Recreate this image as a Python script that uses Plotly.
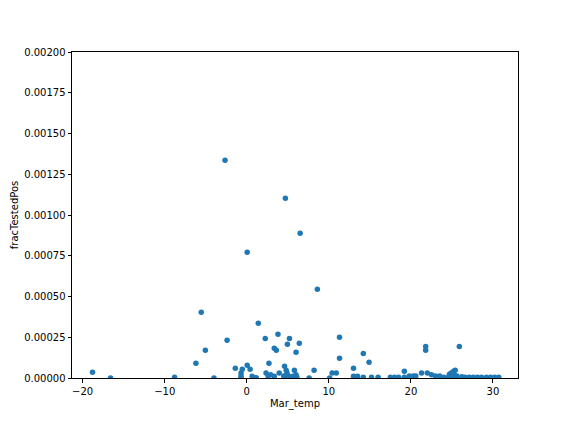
import plotly.graph_objects as go

mar_temp = [-18.8, -16.6, -8.8, -6.2, -5.55, -5.05, -4.0, -2.65, -2.4, -1.4,
            -0.55, -0.7, -0.7, -0.7, 0.05, 0.05, 0.4, 0.65, 1.0, 1.15,
            1.4, 2.25, 2.35, 2.7, 2.6, 2.9, 3.35, 3.35, 3.6, 3.8,
            3.95, 4.7, 4.6, 4.8, 4.9, 4.95, 5.0, 5.2, 5.3, 5.6,
            5.8, 6.0, 6.0, 6.4, 6.5, 6.1, 7.6, 8.2, 8.6, 10.1,
            10.4, 10.9, 11.3, 11.3, 13.0, 13.0, 13.5, 14.2, 14.2, 14.9,
            15.2, 16.0, 17.5, 18.0, 18.5, 19.2, 19.2, 19.8, 20.3, 20.6,
            21.3, 21.8, 21.8, 22.0, 22.5, 23.0, 23.5, 24.0, 24.7, 24.9,
            25.2, 25.4, 25.9, 25.6, 26.2, 26.6, 27.1, 27.6, 28.1, 28.6,
            29.2, 29.7, 30.2, 30.7, 4.5, 4.75, 5.1, 25.1, 25.3, 24.6]
frac_tested_pos = [0.000035, 0.0, 0.000004, 0.00009, 0.000403, 0.00017, 0.0, 0.001336, 0.000231, 0.00006,
                   0.000053, 0.00003, 0.000012, 0.000002, 0.000771, 0.000078, 0.000053, 0.00001, 0.0, 0.000002,
                   0.000336, 0.000243, 0.00003, 0.00009, 0.000012, 0.00002, 0.000182, 0.00001, 0.00017, 0.000268,
                   0.00003, 0.001102, 0.000072, 0.000047, 0.00003, 0.000207, 0.000015, 0.000243, 0.000005, 0.00001,
                   0.000047, 0.000158, 0.00002, 0.000213, 0.000888, 0.000005, 0.0, 0.000047, 0.000544, 0.0,
                   0.00003, 0.00003, 0.00025, 0.000121, 0.00006, 0.00001, 0.00001, 0.000151, 0.000004, 0.000096,
                   0.000004, 0.000004, 0.000004, 0.000004, 0.000004, 0.000041, 0.000004, 0.000012, 0.000012, 0.000012,
                   0.00003, 0.000194, 0.00017, 0.00003, 0.00002, 0.000012, 0.000012, 0.000004, 0.000023, 0.00003,
                   0.000041, 0.000047, 0.000194, 0.000012, 0.000008, 0.000004, 0.000004, 0.000004, 0.000004, 0.000004,
                   0.000004, 0.000004, 0.000004, 0.000004, 0.000012, 0.000004, 0.000008, 0.000006, 0.000018, 0.000008]

x_ticks = [-20, -10, 0, 10, 20, 30]
x_tick_labels = ["\u221220", "\u221210", "0", "10", "20", "30"]
y_ticks = [0.0, 0.00025, 0.0005, 0.00075, 0.001, 0.00125, 0.0015, 0.00175, 0.002]
y_tick_labels = ["0.00000", "0.00025", "0.00050", "0.00075", "0.00100",
                 "0.00125", "0.00150", "0.00175", "0.00200"]

fig = go.Figure(go.Scatter(
    x=mar_temp, y=frac_tested_pos, mode="markers",
    marker=dict(color="#1f77b4", size=5.5, line=dict(width=0)),
    cliponaxis=True,
))

axis_common = dict(
    showline=True, linecolor="black", linewidth=1, mirror=True,
    ticks="outside", ticklen=3.5, tickwidth=1, tickcolor="black",
    showgrid=False, zeroline=False, automargin=False,
    tickfont=dict(family="DejaVu Sans", size=10, color="black"),
)

# page body has an 8px default margin, so the figure is 8px smaller and margins shifted
fig.update_layout(
    width=568, height=424,
    margin=dict(l=64, r=58, t=44, b=54),
    paper_bgcolor="white", plot_bgcolor="white",
    showlegend=False,
    font=dict(family="DejaVu Sans", size=10, color="black"),
    xaxis=dict(range=[-21.3, 33.05], tickvals=x_ticks, ticktext=x_tick_labels,
               title=dict(text="Mar_temp", standoff=4,
                          font=dict(family="DejaVu Sans", size=10)),
               **axis_common),
    yaxis=dict(range=[0, 0.002], tickvals=y_ticks, ticktext=y_tick_labels,
               title=dict(text="fracTestedPos", standoff=3,
                          font=dict(family="DejaVu Sans", size=10)),
               **axis_common),
)

fig.write_html("out.html")
